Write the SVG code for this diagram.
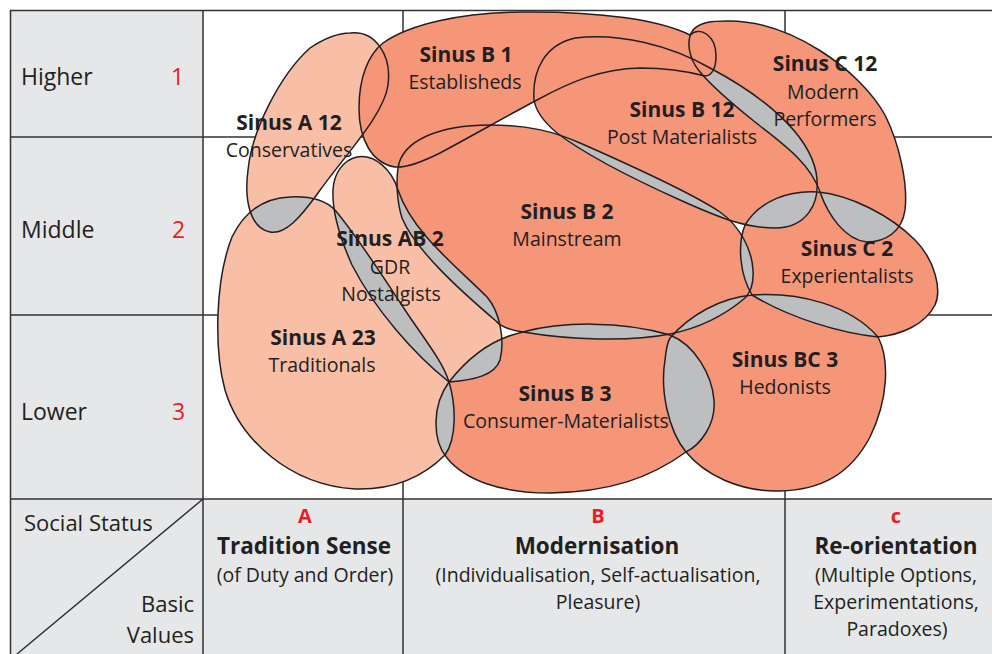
<svg xmlns="http://www.w3.org/2000/svg" width="992" height="654" viewBox="0 0 992 654">
<style>
.panel{fill:#e6e7e8}
.grid{stroke:#333335;stroke-width:1.5;fill:none}
.light{fill:#f9bea6}
.salmon{fill:#f59679}
.ov{fill:#bcbec0}
.edge{fill:none;stroke:#231f20;stroke-width:1.5}
text{font-family:"Open Sans","Noto Sans",sans-serif;fill:#231f20}
.nm{font-weight:bold;font-size:21px;text-anchor:middle}
.sub{font-size:19.5px;text-anchor:middle}
.ax{font-size:23px}
.num{font-size:23px;fill:#ed1c24}
.lab{font-size:22px}
.hd{font-weight:bold;font-size:22.5px;text-anchor:middle}
.let{font-weight:bold;font-size:20px;fill:#ed1c24;text-anchor:middle}
</style>
<defs>
<path id="pA12" d="M350,33 C375,30 392,55 388,85 C384,115 345,155 318,193 C300,218 285,235 270,232 C250,228 244,200 248,170 C252,130 280,75 310,48 C325,38 338,33 350,33 Z"/>
<path id="pB1" d="M383,43 C410,24 460,13 520,12 C600,11 660,20 690,35 C700,26 716,35 716,56 C716,68 712,76 705,76 C690,72 668,68 640,68 C600,69 570,82 537,100 C505,117 470,137 440,153 C420,163 405,168 395,167 C372,163 359,140 359,108 C359,78 368,55 383,43 Z"/>
<path id="pC12" d="M727,21 C790,20 860,70 885,115 C900,145 908,185 905,210 C902,232 885,242 867,242 C845,240 828,215 820,192 C810,162 780,142 755,122 C730,102 710,84 700,72 C688,58 686,40 693,30 C700,22 712,21 727,21 Z"/>
<path id="pB12" d="M534,100 C532,70 545,45 575,38 C620,33 670,45 710,68 C763,96 808,133 816,172 C822,205 805,228 775,228 C745,228 720,218 680,200 C640,182 590,158 557,133 C545,123 536,112 534,100 Z"/>
<path id="pB2" d="M398,168 C402,140 440,125 490,125 C530,125 555,132 580,143 C630,165 690,192 720,212 C740,226 752,250 753,270 C754,285 750,293 745,298 C725,315 700,328 670,334 C630,342 570,340 523,332 C510,330 500,326 496,321 C462,292 415,250 402,218 C397,202 396,182 398,168 Z"/>
<path id="pAB2" d="M357,157 C375,154 392,170 398,190 C412,232 455,265 487,297 C500,312 505,340 500,360 C495,375 475,380 449,382 C415,355 375,310 352,265 C340,238 332,210 333,190 C334,172 344,160 357,157 Z"/>
<path id="pA23" d="M290,197 C310,196 325,200 335,210 C360,240 385,280 405,310 C425,340 443,362 449,382 C456,405 457,438 445,455 C420,480 390,490 355,489 C290,485 240,440 225,390 C214,350 215,280 232,237 C245,210 265,198 290,197 Z"/>
<path id="pB3" d="M449,382 C470,355 495,338 523,332 C560,322 620,320 670,335 C695,345 712,375 714,400 C716,425 700,445 686,452 C650,478 610,492 550,493 C500,493 465,480 447,458 C432,440 432,405 449,382 Z"/>
<path id="pBC3" d="M670,338 C690,315 720,298 752,295 C800,292 850,305 878,337 C890,360 888,400 870,437 C850,475 820,490 780,491 C740,492 705,475 686,452 C668,430 660,390 665,360 C666,350 667,343 670,338 Z"/>
<path id="pC2" d="M745,225 C760,200 790,190 818,192 C850,195 890,215 915,240 C935,260 942,290 935,305 C925,325 900,335 878,337 C840,333 790,318 752,295 C740,275 737,245 745,225 Z"/>
<clipPath id="cA12"><use href="#pA12"/></clipPath>
<clipPath id="cA23"><use href="#pA23"/></clipPath>
<clipPath id="cAB2"><use href="#pAB2"/></clipPath>
<clipPath id="cB2"><use href="#pB2"/></clipPath>
<clipPath id="cB12"><use href="#pB12"/></clipPath>
<clipPath id="cC12"><use href="#pC12"/></clipPath>
<clipPath id="cC2"><use href="#pC2"/></clipPath>
<clipPath id="cB3"><use href="#pB3"/></clipPath>
</defs>
<rect width="992" height="654" fill="#ffffff"/>
<g id="table">
<rect class="panel" x="10" y="10" width="193" height="644"/>
<rect class="panel" x="10" y="499" width="982" height="155"/>
<path class="grid" d="M10,10.5H992 M10.5,10V654 M203,10V654 M403,10V654 M785,10V654 M10,137H992 M10,315H992 M10,499H992 M203,499L17,654"/>
<text class="ax" x="21" y="85">Higher</text>
<text class="num" x="171" y="85">1</text>
<text class="ax" x="21" y="238">Middle</text>
<text class="num" x="172" y="238">2</text>
<text class="ax" x="21" y="420">Lower</text>
<text class="num" x="172" y="420">3</text>
<text class="lab" x="24" y="531">Social Status</text>
<text class="lab" x="194" y="612" text-anchor="end">Basic</text>
<text class="lab" x="194" y="643" text-anchor="end">Values</text>
<text class="let" x="305" y="523">A</text>
<text class="hd" x="304" y="554">Tradition Sense</text>
<text class="sub" x="305" y="581.5">(of Duty and Order)</text>
<text class="let" x="598" y="523">B</text>
<text class="hd" x="597" y="554">Modernisation</text>
<text class="sub" x="598" y="581.5">(Individualisation, Self-actualisation,</text>
<text class="sub" x="598" y="608.5">Pleasure)</text>
<text class="let" x="896" y="523">c</text>
<text class="hd" x="896" y="554">Re-orientation</text>
<text class="sub" x="896" y="581.5">(Multiple Options,</text>
<text class="sub" x="896" y="608.5">Experimentations,</text>
<text class="sub" x="897" y="635.5">Paradoxes)</text>
</g>
<g id="fills">
<use href="#pA12" class="light"/>
<use href="#pA23" class="light"/>
<use href="#pAB2" class="light"/>
<use href="#pB2" class="salmon"/>
<use href="#pB12" class="salmon"/>
<use href="#pC12" class="salmon"/>
<use href="#pC2" class="salmon"/>
<use href="#pB3" class="salmon"/>
<use href="#pBC3" class="salmon"/>
</g>
<g id="overlaps" class="ov">
<use href="#pA23" clip-path="url(#cA12)"/>
<use href="#pAB2" clip-path="url(#cA23)"/>
<use href="#pB2" clip-path="url(#cAB2)"/>
<use href="#pB12" clip-path="url(#cB2)"/>
<use href="#pC12" clip-path="url(#cB12)"/>
<use href="#pC2" clip-path="url(#cB12)"/>
<use href="#pC2" clip-path="url(#cC12)"/>
<use href="#pC2" clip-path="url(#cB2)"/>
<use href="#pBC3" clip-path="url(#cB2)"/>
<use href="#pBC3" clip-path="url(#cC2)"/>
<use href="#pB3" clip-path="url(#cB2)"/>
<use href="#pB3" clip-path="url(#cAB2)"/>
<use href="#pB3" clip-path="url(#cA23)"/>
<use href="#pBC3" clip-path="url(#cB3)"/>
</g>
<use href="#pB1" class="salmon"/>
<g id="connectors"/>
<g id="node-A12"><use href="#pA12" class="edge"/><text class="nm" x="289" y="129.5">Sinus A 12</text><text class="sub" x="289" y="157">Conservatives</text></g>
<g id="node-A23"><use href="#pA23" class="edge"/><text class="nm" x="323" y="344.5">Sinus A 23</text><text class="sub" x="322" y="372">Traditionals</text></g>
<g id="node-AB2"><use href="#pAB2" class="edge"/><text class="nm" x="390" y="246">Sinus AB 2</text><text class="sub" x="390" y="273.5">GDR</text><text class="sub" x="391" y="300.5">Nostalgists</text></g>
<g id="node-B1"><use href="#pB1" class="edge"/><text class="nm" x="466" y="61.5">Sinus B 1</text><text class="sub" x="465" y="89">Establisheds</text></g>
<g id="node-B12"><use href="#pB12" class="edge"/><text class="nm" x="682" y="116.5">Sinus B 12</text><text class="sub" x="682" y="144">Post Materialists</text></g>
<g id="node-C12"><use href="#pC12" class="edge"/><text class="nm" x="825" y="71">Sinus C 12</text><text class="sub" x="823" y="98.5">Modern</text><text class="sub" x="825" y="125.5">Performers</text></g>
<g id="node-B2"><use href="#pB2" class="edge"/><text class="nm" x="567" y="218.5">Sinus B 2</text><text class="sub" x="567" y="246">Mainstream</text></g>
<g id="node-C2"><use href="#pC2" class="edge"/><text class="nm" x="847" y="255.5">Sinus C 2</text><text class="sub" x="847" y="283">Experientalists</text></g>
<g id="node-B3"><use href="#pB3" class="edge"/><text class="nm" x="565" y="400.5">Sinus B 3</text><text class="sub" x="566" y="428">Consumer-Materialists</text></g>
<g id="node-BC3"><use href="#pBC3" class="edge"/><text class="nm" x="785" y="366.5">Sinus BC 3</text><text class="sub" x="785" y="394">Hedonists</text></g>
</svg>
